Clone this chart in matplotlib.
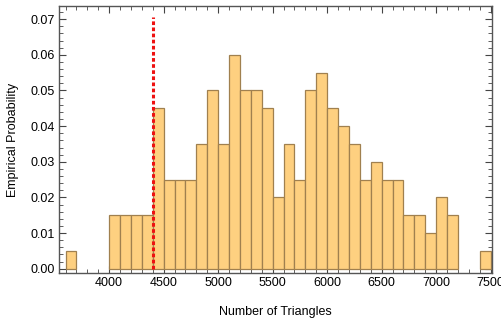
import matplotlib.pyplot as plt
from matplotlib.ticker import MultipleLocator
import numpy as np

plt.rcParams['font.family'] = ['Liberation Sans', 'DejaVu Sans']

# bin left edges (width 100) and empirical probabilities
bin_left = np.arange(3600, 7500, 100)
probs = [0.005, 0, 0, 0, 0.015, 0.015, 0.015, 0.015, 0.045, 0.025,
         0.025, 0.025, 0.035, 0.05, 0.035, 0.06, 0.05, 0.05, 0.045, 0.02,
         0.035, 0.025, 0.05, 0.055, 0.045, 0.04, 0.035, 0.025, 0.03, 0.025,
         0.025, 0.015, 0.015, 0.01, 0.02, 0.015, 0, 0, 0.005]
threshold = 4400

fig = plt.figure(figsize=(5.02, 3.22), dpi=100)
ax = fig.add_axes([59 / 502, 1 - 273 / 322, 433 / 502, 267 / 322])

mask = np.array(probs) > 0
ax.bar(bin_left[mask], np.array(probs)[mask], width=100, align='edge',
       color='#fed080', edgecolor='#a0804f', linewidth=0.9, zorder=2)
ax.plot([threshold, threshold], [0, 0.0705], color='#ee1111', lw=2.2,
        ls=(0, (1.2, 0.8)), zorder=3)

ax.set_xlim(3540, 7512)
ax.set_ylim(-0.0012, 0.0737)
ax.xaxis.set_major_locator(MultipleLocator(500))
ax.xaxis.set_minor_locator(MultipleLocator(100))
ax.yaxis.set_major_locator(MultipleLocator(0.01))
ax.yaxis.set_minor_locator(MultipleLocator(0.002))
ax.set_xticks(np.arange(4000, 7501, 500))
ax.yaxis.set_major_formatter(plt.FuncFormatter(lambda v, p: f"{v:.2f}"))

ax.tick_params(which='both', direction='in', top=True, right=True,
               labelsize=9, color='#444444', pad=3)
ax.tick_params(which='major', length=5, width=0.8)
ax.tick_params(which='minor', length=2.8, width=0.6)
for s in ax.spines.values():
    s.set_color('#555555')
    s.set_linewidth(1.0)

ax.set_xlabel('Number of Triangles', fontsize=9, labelpad=12)
ax.set_ylabel('Empirical Probability', fontsize=9, labelpad=8)

plt.savefig('out.png', dpi=100)
